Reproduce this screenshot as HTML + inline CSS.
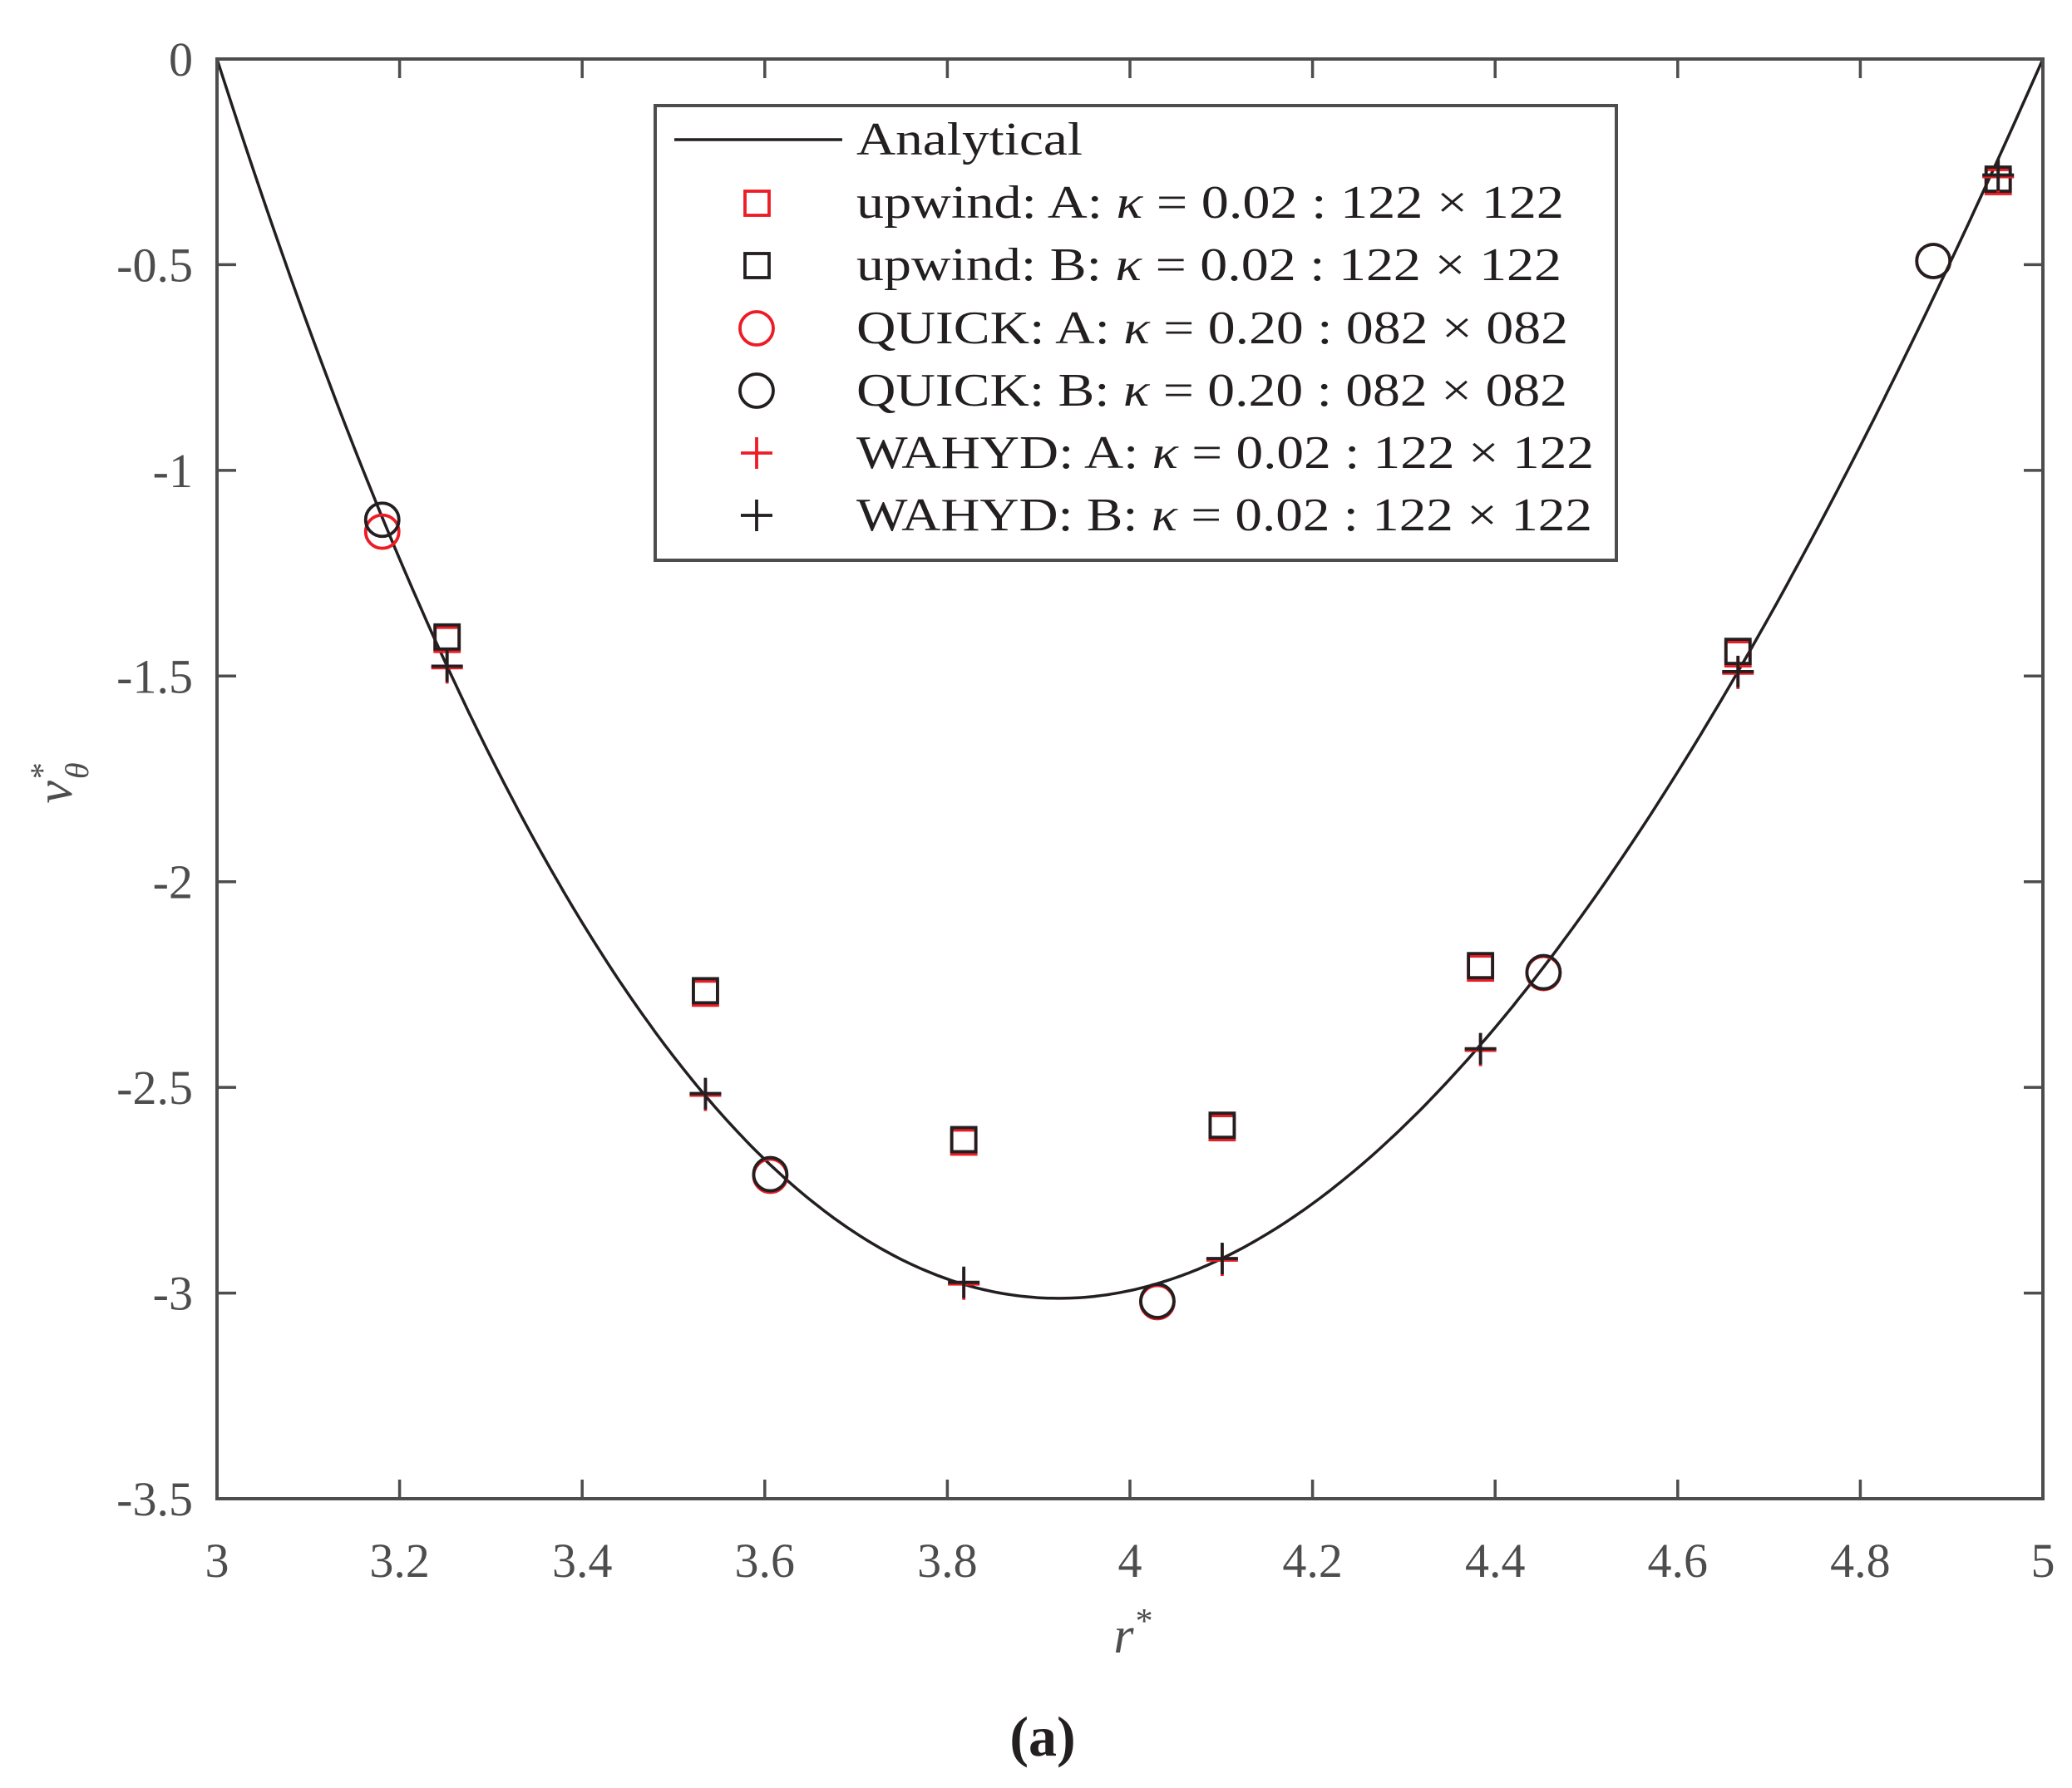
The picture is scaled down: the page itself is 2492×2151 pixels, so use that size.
<!DOCTYPE html>
<html><head><meta charset="utf-8"><style>
html,body{margin:0;padding:0;background:#fff}
svg{display:block}
text{font-family:"Liberation Serif",serif}
</style></head><body>
<svg id="s" width="2492" height="2151" viewBox="0 0 2492 2151" xmlns="http://www.w3.org/2000/svg">
<rect width="2492" height="2151" fill="#fff"/>
<g id="ticks" stroke="#4d4d4d" stroke-width="3.5"></g>
<g id="labels" fill="#4d4d4d" font-size="58"></g>
<path id="curve" fill="none" stroke="#231f20" stroke-width="3.5"/>
<g id="markers" fill="none" stroke-width="3.8"></g>
<rect x="261" y="71" width="2196" height="1732" fill="none" stroke="#4d4d4d" stroke-width="4"/>
<g>
<rect x="788" y="127" width="1156" height="547" fill="#fff" stroke="#4d4d4d" stroke-width="4"/>
<line x1="811" y1="168" x2="1013" y2="168" stroke="#231f20" stroke-width="3.5"/>
<g font-size="56" fill="#231f20">
<text x="1030" y="186" textLength="272" lengthAdjust="spacingAndGlyphs">Analytical</text>
<text x="1030" y="262" textLength="851" lengthAdjust="spacingAndGlyphs">upwind:  A: <tspan font-style="italic">κ</tspan> = 0.02 : 122 × 122</text>
<text x="1030" y="337" textLength="848" lengthAdjust="spacingAndGlyphs">upwind:  B: <tspan font-style="italic">κ</tspan> = 0.02 : 122 × 122</text>
<text x="1030" y="413" textLength="856" lengthAdjust="spacingAndGlyphs">QUICK: A: <tspan font-style="italic">κ</tspan> = 0.20 : 082 × 082</text>
<text x="1030" y="488" textLength="855" lengthAdjust="spacingAndGlyphs">QUICK: B: <tspan font-style="italic">κ</tspan> = 0.20 : 082 × 082</text>
<text x="1030" y="563" textLength="887" lengthAdjust="spacingAndGlyphs">WAHYD: A: <tspan font-style="italic">κ</tspan> = 0.02 : 122 × 122</text>
<text x="1030" y="638" textLength="885" lengthAdjust="spacingAndGlyphs">WAHYD: B: <tspan font-style="italic">κ</tspan> = 0.02 : 122 × 122</text>
</g>
<g fill="none" stroke-width="3.8">
<rect x="896" y="230" width="29" height="29" stroke="#ed1c24"/>
<rect x="896" y="305" width="29" height="29" stroke="#231f20"/>
<circle cx="910" cy="395" r="20" stroke="#ed1c24"/>
<circle cx="910" cy="470" r="20" stroke="#231f20"/>
<path d="M891 545h38M910 526v38" stroke="#ed1c24"/>
<path d="M891 620h38M910 601v38" stroke="#231f20"/>
</g>
</g>
<text x="1362" y="1988" font-size="62" font-style="italic" fill="#4d4d4d" text-anchor="middle">r<tspan font-size="42" dy="-24">*</tspan></text>
<text transform="translate(86,942) rotate(-90)" font-size="62" font-style="italic" fill="#4d4d4d" text-anchor="middle">v<tspan font-size="40" dy="-22">*</tspan><tspan font-size="40" dx="-18" dy="42">θ</tspan></text>
<text x="1254" y="2112" font-size="68" font-weight="bold" fill="#231f20" text-anchor="middle">(a)</text>
</svg>
<script>
const NS="http://www.w3.org/2000/svg";
const X=r=>261+(r-3)*1098, Y=v=>71-v*494.857;
function el(p,tag,at,txt){const e=document.createElementNS(NS,tag);for(const k in at)e.setAttribute(k,at[k]);if(txt!==undefined)e.textContent=txt;p.appendChild(e);return e;}
const T=document.getElementById('ticks'),L=document.getElementById('labels');
for(let i=0;i<=10;i++){const r=3+i*0.2,x=X(r);
 el(T,'line',{x1:x,y1:1803,x2:x,y2:1780});el(T,'line',{x1:x,y1:71,x2:x,y2:94});
 let s=(Math.round(r*10)/10).toString();
 el(L,'text',{x:x,y:1897,'text-anchor':'middle'},s);}
for(let i=0;i<=7;i++){const v=-i*0.5,y=Y(v);
 el(T,'line',{x1:261,y1:y,x2:284,y2:y});el(T,'line',{x1:2457,y1:y,x2:2434,y2:y});
 el(L,'text',{x:232,y:y+20,'text-anchor':'end'},v===0?'0':v.toString());}
let d='';
for(let i=0;i<=400;i++){const r=3+i*2/400,t=r-4;const v=-2.994*(1-t*t)*(1-0.1594*t);
 d+=(i?'L':'M')+X(r).toFixed(1)+','+Y(v).toFixed(1);}
document.getElementById('curve').setAttribute('d',d);
const M=document.getElementById('markers');const R='#ed1c24',K='#231f20';
const sq=[[3.252,-1.405],[3.535,-2.265],[3.818,-2.627],[4.101,-2.592],[4.384,-2.204],[4.666,-1.44],[4.951,-0.292]];
const ci=[[3.181,-1.149,-1.12],[3.606,-2.715,-2.711],[4.03,-3.022,-3.019],[4.453,-2.222,-2.22],[4.88,-0.491,-0.491]];
const pl=[[3.252,-1.476],[3.535,-2.515],[3.818,-2.974],[4.101,-2.916],[4.384,-2.406],[4.666,-1.489],[4.951,-0.282]];
sq.forEach(p=>{el(M,'rect',{x:X(p[0])-14.5,y:Y(p[1])-14.5+3,width:29,height:29,stroke:R});el(M,'rect',{x:X(p[0])-14.5,y:Y(p[1])-14.5,width:29,height:29,stroke:K});});
ci.forEach(p=>{el(M,'circle',{cx:X(p[0]),cy:Y(p[1]),r:20,stroke:R});el(M,'circle',{cx:X(p[0]),cy:Y(p[2]),r:20,stroke:K});});
pl.forEach(p=>{const x=X(p[0]),y=Y(p[1]);el(M,'path',{d:`M${x-19},${y+2}h38M${x},${y-17}v38`,stroke:R});el(M,'path',{d:`M${x-19},${y}h38M${x},${y-19}v38`,stroke:K});});
</script>
</body></html>
